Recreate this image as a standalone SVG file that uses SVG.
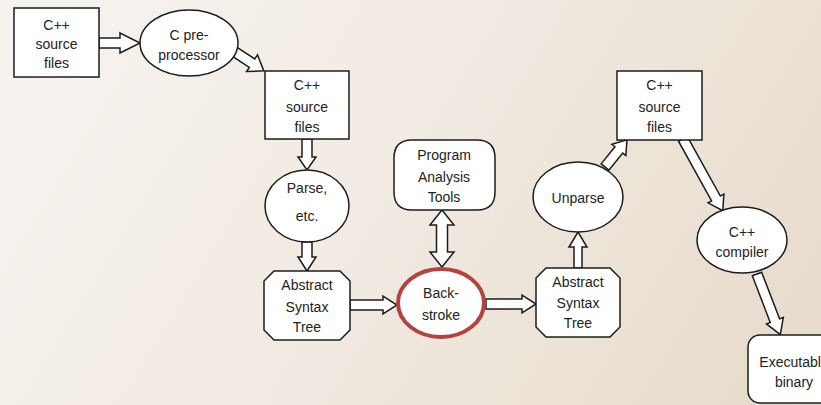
<svg xmlns="http://www.w3.org/2000/svg" width="821" height="405" viewBox="0 0 821 405">
<defs>
<linearGradient id="bg" x1="0" y1="0.3" x2="1" y2="0.6">
<stop offset="0" stop-color="#f6f2ed"/>
<stop offset="0.5" stop-color="#f1eae2"/>
<stop offset="1" stop-color="#e8dccd"/>
</linearGradient>
</defs>
<style>
.shape{fill:#ffffff;stroke:#1c1c1c;stroke-width:1.5}
.arrow{fill:#ffffff;stroke:#1c1c1c;stroke-width:1.5;stroke-linejoin:miter}
.hl{fill:#ffffff;stroke:#b5433d;stroke-width:4}
text{font-family:"Liberation Sans",Arial,sans-serif;font-size:14px;fill:#222222;text-anchor:middle}
</style>
<rect x="0" y="0" width="821" height="405" fill="url(#bg)"/>

<g id="connectors">
<g transform="translate(99,43)"><polygon class="arrow" points="0,-5 21,-5 21,-10 41,0 21,10 21,5 0,5"/></g>
<g transform="translate(232,50) rotate(33.3)"><polygon class="arrow" points="0,-5 24,-5 24,-10 38,0 24,10 24,5 0,5"/></g>
<g transform="translate(307,139) rotate(90)"><polygon class="arrow" points="0,-5 18,-5 18,-9 31,0 18,9 18,5 0,5"/></g>
<g transform="translate(307,242) rotate(90)"><polygon class="arrow" points="0,-5 15,-5 15,-9 29,0 15,9 15,5 0,5"/></g>
<g transform="translate(350,305)"><polygon class="arrow" points="0,-5 33,-5 33,-9 47,0 33,9 33,5 0,5"/></g>
<g transform="translate(442,210) rotate(90)"><polygon class="arrow" points="0,0 15,-12 15,-5.5 42,-5.5 42,-12 57,0 42,12 42,5.5 15,5.5 15,12"/></g>
<g transform="translate(486,304)"><polygon class="arrow" points="0,-5 36,-5 36,-9 50,0 36,9 36,5 0,5"/></g>
<g transform="translate(578,268) rotate(-90)"><polygon class="arrow" points="0,-4 21,-4 21,-9 36,0 21,9 21,4 0,4"/></g>
<g transform="translate(605,167) rotate(-51)"><polygon class="arrow" points="0,-5 22,-5 22,-9 35,0 22,9 22,5 0,5"/></g>
<g transform="translate(683,139) rotate(61)"><polygon class="arrow" points="0,-5 68,-5 68,-9 82,0 68,9 68,5 0,5"/></g>
<g transform="translate(757,274) rotate(69)"><polygon class="arrow" points="0,-5 50,-5 50,-9 65,0 50,9 50,5 0,5"/></g>
</g>

<g id="n_src1">
<rect class="shape" x="14" y="8" width="85" height="69"/>
<text x="56.5" y="30">C++</text>
<text x="56.5" y="49">source</text>
<text x="56.5" y="68">files</text>
</g>

<g id="n_cpp">
<ellipse class="shape" cx="189" cy="43" rx="49" ry="33"/>
<text x="189" y="40">C pre-</text>
<text x="189" y="60">processor</text>
</g>

<g id="n_src2">
<rect class="shape" x="265" y="71" width="84" height="68"/>
<text x="307" y="90">C++</text>
<text x="307" y="112">source</text>
<text x="307" y="132">files</text>
</g>

<g id="n_parse">
<ellipse class="shape" cx="307" cy="206" rx="42" ry="36"/>
<text x="307" y="193">Parse,</text>
<text x="307" y="221">etc.</text>
</g>

<g id="n_ast1">
<polygon class="shape" points="274,271 340,271 350,281 350,330 340,340 274,340 264,330 264,281"/>
<text x="307" y="290">Abstract</text>
<text x="307" y="312">Syntax</text>
<text x="307" y="332">Tree</text>
</g>

<g id="n_tools">
<path class="shape" d="M412,140 H477 Q495,140 495,158 V192 Q495,210 477,210 H412 Q394,210 394,192 V158 Q394,140 412,140 Z"/>
<text x="444" y="160">Program</text>
<text x="444" y="182">Analysis</text>
<text x="444" y="202">Tools</text>
</g>

<g id="n_backstroke">
<ellipse class="hl" cx="441" cy="303" rx="43" ry="34"/>
<text x="441" y="298">Back-</text>
<text x="441" y="320">stroke</text>
</g>

<g id="n_ast2">
<polygon class="shape" points="546,268 610,268 620,278 620,327 610,337 546,337 536,327 536,278"/>
<text x="578" y="287">Abstract</text>
<text x="578" y="308">Syntax</text>
<text x="578" y="328">Tree</text>
</g>

<g id="n_unparse">
<ellipse class="shape" cx="578" cy="197" rx="45" ry="35"/>
<text x="578" y="203">Unparse</text>
</g>

<g id="n_src3">
<rect class="shape" x="617" y="71" width="85" height="69"/>
<text x="659.5" y="90">C++</text>
<text x="659.5" y="112">source</text>
<text x="659.5" y="132">files</text>
</g>

<g id="n_compiler">
<ellipse class="shape" cx="742" cy="240" rx="45" ry="33"/>
<text x="742" y="237">C++</text>
<text x="742" y="257">compiler</text>
</g>

<g id="n_exe">
<rect class="shape" x="748" y="335" width="90" height="68" rx="12" ry="12"/>
<text x="794" y="367">Executable</text>
<text x="794" y="387">binary</text>
</g>
</svg>
